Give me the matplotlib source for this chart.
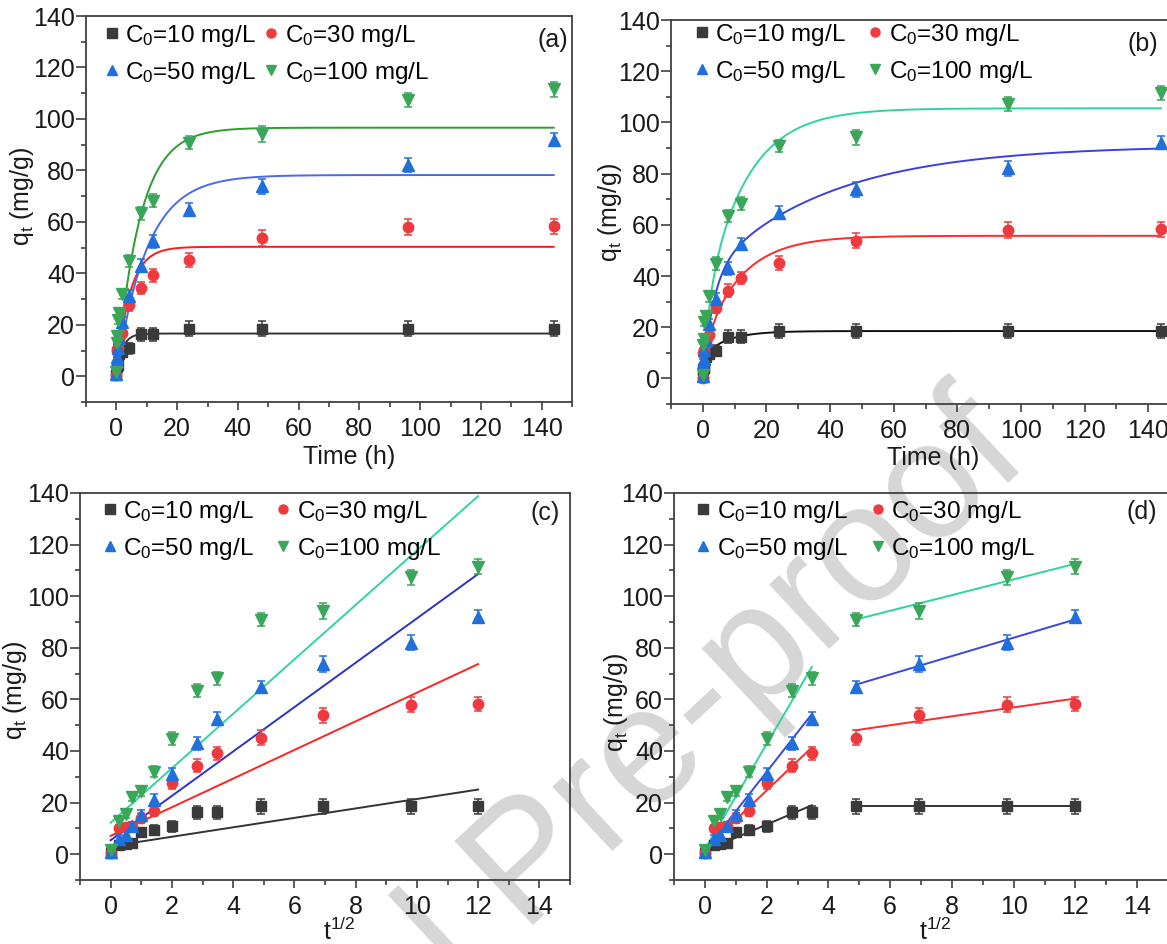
import numpy as np
import matplotlib
matplotlib.use("Agg")
import matplotlib.pyplot as plt
from matplotlib.ticker import MultipleLocator
from matplotlib.lines import Line2D

plt.rcParams["font.family"] = ["Liberation Sans", "DejaVu Sans"]
plt.rcParams["mathtext.fontset"] = "custom"
plt.rcParams["mathtext.rm"] = "Liberation Sans"
plt.rcParams["mathtext.it"] = "Liberation Sans:italic"

# ---- sampling times (h) ----
time_h = [0, 1 / 12, 0.25, 0.5, 1, 2, 4, 8, 12, 24, 48, 96, 144]

# ---- adsorbed amount q_t (mg/g) for each initial concentration ----
conc_labels = ["C$_\\mathregular{0}$=10 mg/L", "C$_\\mathregular{0}$=30 mg/L",
               "C$_\\mathregular{0}$=50 mg/L", "C$_\\mathregular{0}$=100 mg/L"]
q_10 = [0.5, 3.5, 4.0, 4.5, 8.5, 9.5, 10.8, 16.3, 16.3, 18.5, 18.5, 18.5, 18.5]
q_30 = [0.3, 10.0, 10.5, 11.0, 14.0, 16.8, 27.6, 34.3, 39.2, 45.2, 53.8, 58.0, 58.2]
q_50 = [1.0, 6.0, 7.5, 11.0, 15.0, 21.2, 31.2, 43.0, 52.5, 64.8, 73.8, 82.0, 92.0]
q_100 = [1.5, 13.0, 15.5, 22.0, 24.5, 32.0, 44.8, 63.4, 68.2, 90.8, 94.2, 107.3, 111.5]

err_10 = [0.5, 1.0, 1.0, 1.0, 1.5, 2.0, 2.2, 2.5, 2.5, 2.8, 2.8, 2.8, 2.8]
err_30 = [0.5, 1.5, 1.5, 1.5, 2.0, 2.0, 2.2, 2.5, 2.5, 2.8, 3.0, 3.0, 2.8]
err_50 = [0.5, 1.5, 1.5, 1.5, 2.0, 2.0, 2.2, 2.5, 2.5, 2.5, 3.0, 2.8, 2.5]
err_100 = [0.5, 1.5, 1.5, 1.5, 2.0, 2.0, 2.5, 2.5, 2.5, 2.5, 3.0, 2.8, 2.8]

# ---- fitted model parameters ----
# (a) pseudo-first-order: q = qe (1 - exp(-k t))
pfo_qe = [16.6, 50.3, 78.2, 96.6]
pfo_k = [0.5, 0.23, 0.10, 0.13]
# (b) two-rate kinetic curve: q = a (1 - exp(-k1 t)) + b (1 - exp(-k2 t))
two_a = [9.0, 12.0, 40.0, 25.0]
two_k1 = [0.8, 0.6, 0.3, 0.5]
two_b = [9.5, 43.7, 51.0, 80.5]
two_k2 = [0.13, 0.085, 0.026, 0.078]
# (c) single intraparticle diffusion line: q = C + kid t^0.5
ipd_c = [3.1, 7.1, 5.4, 12.2]
ipd_k = [1.83, 5.55, 8.6, 10.55]
# (d) two-stage intraparticle diffusion
st1_c = [1.3, 1.9, 1.3, 1.9]
st1_k = [5.1, 11.4, 15.3, 20.4]
st2_c = [18.6, 39.6, 48.3, 76.1]
st2_k = [0.0, 1.73, 3.56, 3.04]

q_series = [q_10, q_30, q_50, q_100]
err_series = [err_10, err_30, err_50, err_100]

marker_colors = ["#3a3a3a", "#ee3a3e", "#1f6fdc", "#39a65a"]
markers = ["s", "o", "^", "v"]
msizes = [7, 7.5, 8.5, 8.5]
line_a = ["#333333", "#ff1a1a", "#4a68e8", "#2e9e2a"]
line_b = ["#111111", "#ff2a2a", "#3a40e0", "#2fd49a"]
line_c = ["#333333", "#ff2222", "#2a32c8", "#30d49c"]
line_d = ["#333333", "#ff2a2a", "#3a46e0", "#2fd49a"]

W, H = 1167, 944
fig = plt.figure(figsize=(W / 100, H / 100), dpi=100)

fig.text(532 / W, 1 - 868 / H, "Journal Pre-proof", rotation=43, fontsize=120,
         color="#d6d6d6", ha="center", va="center", rotation_mode="anchor", zorder=-5)


def px_axes(left, top, right, bottom):
    return fig.add_axes([left / W, 1 - bottom / H, (right - left) / W, (bottom - top) / H])


ax_a = px_axes(86, 16, 572, 402)
ax_b = px_axes(671, 20, 1180, 404)
ax_c = px_axes(80, 493, 570, 880)
ax_d = px_axes(674, 493, 1168, 880)

t = np.asarray(time_h)
sq = np.sqrt(t)


def style(ax, xlim, xmaj, xmin):
    ax.set_facecolor("none")
    ax.set_xlim(*xlim)
    ax.set_ylim(-10, 140)
    ax.xaxis.set_major_locator(MultipleLocator(xmaj))
    ax.xaxis.set_minor_locator(MultipleLocator(xmin))
    ax.yaxis.set_major_locator(MultipleLocator(20))
    ax.yaxis.set_minor_locator(MultipleLocator(10))
    for s in ax.spines.values():
        s.set_color("#404040")
        s.set_linewidth(1.3)
    ax.tick_params(which="both", direction="out", color="#404040", width=1.2,
                   top=False, right=False)
    ax.tick_params(which="major", length=6, labelsize=18, labelcolor="#1a1a1a")
    ax.tick_params(which="minor", length=3.5)
    ax.tick_params(axis="y", which="major", length=7, pad=1)
    ax.tick_params(axis="x", which="major", pad=5)


def draw_points(ax, x):
    for q, e, c, m, ms in zip(q_series, err_series, marker_colors, markers, msizes):
        ax.errorbar(x, q, yerr=e, fmt=m, color=c, ms=ms, mec=c, elinewidth=1.1,
                    capsize=3.2, capthick=1.1, zorder=3)


def add_legend(ax, x0, y0, colsp):
    handles = [Line2D([], [], ls="none", marker=m, color=c, ms=6.5)
               for m, c in zip(markers, marker_colors)]
    order = [0, 2, 1, 3]
    ax.legend([handles[i] for i in order], [conc_labels[i] for i in order],
              ncol=2, loc="upper left", bbox_to_anchor=(x0, y0), frameon=False,
              fontsize=17.5, handlelength=0.5, handletextpad=0.3,
              columnspacing=colsp, labelspacing=0.45, borderpad=0, borderaxespad=0)


# (a)
tt = np.linspace(0, 144, 600)
for qe, k, c in zip(pfo_qe, pfo_k, line_a):
    ax_a.plot(tt, qe * (1 - np.exp(-k * tt)), color=c, lw=1.4, zorder=2)
draw_points(ax_a, t)
style(ax_a, (-10, 150), 20, 10)

# (b)
for a, k1, b, k2, c in zip(two_a, two_k1, two_b, two_k2, line_b):
    ax_b.plot(tt, a * (1 - np.exp(-k1 * tt)) + b * (1 - np.exp(-k2 * tt)),
              color=c, lw=1.4, zorder=2)
draw_points(ax_b, t)
style(ax_b, (-10, 150), 20, 10)

# (c)
xs = np.linspace(0, 12, 50)
for c0, k, c in zip(ipd_c, ipd_k, line_c):
    ax_c.plot(xs, c0 + k * xs, color=c, lw=1.4, zorder=2)
draw_points(ax_c, sq)
style(ax_c, (-1, 15), 2, 1)

# (d)
x1 = np.linspace(0, np.sqrt(12), 20)
x2 = np.linspace(np.sqrt(24), 12, 20)
for c1, k1, c2, k2, c in zip(st1_c, st1_k, st2_c, st2_k, line_d):
    ax_d.plot(x1, c1 + k1 * x1, color=c, lw=1.4, zorder=2)
    ax_d.plot(x2, c2 + k2 * x2, color=c, lw=1.4, zorder=2)
draw_points(ax_d, sq)
style(ax_d, (-1, 15), 2, 1)

# labels
ylab = "q$_\\mathregular{t}$ (mg/g)"
for ax, xl, xlx, xly, ylx, yly in [
        (ax_a, "Time (h)", 0.541, -0.112, -0.103, 0.534),
        (ax_b, "Time (h)", 0.515, -0.11, -0.093, 0.5),
        (ax_c, "t$^\\mathregular{1/2}$", 0.529, -0.098, -0.104, 0.49),
        (ax_d, "t$^\\mathregular{1/2}$", 0.528, -0.098, -0.09, 0.46)]:
    ax.set_xlabel(xl, fontsize=18, color="#1a1a1a")
    ax.set_ylabel(ylab, fontsize=18, color="#1a1a1a")
    ax.xaxis.set_label_coords(xlx, xly)
    ax.yaxis.set_label_coords(ylx, yly)

for ax, lab, xr, yc in [(ax_a, "(a)", 0.992, 0.938), (ax_b, "(b)", 0.957, 0.938),
                        (ax_c, "(c)", 0.98, 0.948), (ax_d, "(d)", 0.978, 0.95)]:
    ax.text(xr, yc, lab, transform=ax.transAxes, ha="right", va="center",
            fontsize=18, color="#1a1a1a")

add_legend(ax_a, 0.04, 0.982, 0.4)
add_legend(ax_b, 0.049, 0.995, 0.95)
add_legend(ax_c, 0.049, 0.985, 0.95)
add_legend(ax_d, 0.047, 0.985, 1.0)

fig.savefig("out.png", dpi=100)
